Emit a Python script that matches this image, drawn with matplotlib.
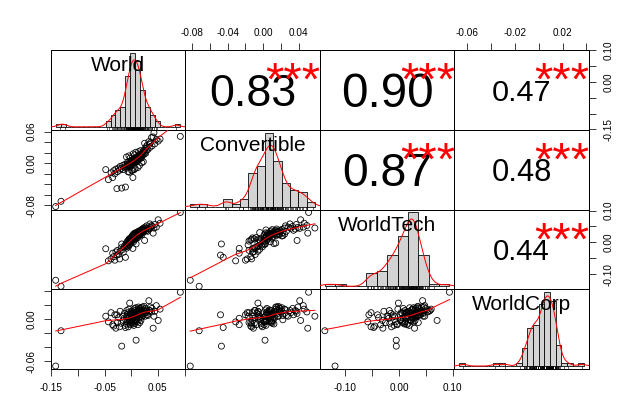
import numpy as np
import matplotlib
matplotlib.use("Agg")
import matplotlib.pyplot as plt

plt.rcParams['font.family'] = ['Liberation Sans', 'DejaVu Sans']

# ---------------- data ----------------
variables = ["World", "Convertible", "WorldTech", "WorldCorp"]

world = [-0.142, -0.132, -0.048, -0.043, -0.038, -0.035, -0.033, -0.031, -0.029, -0.027,
         -0.026, -0.024, -0.022, -0.021, -0.019, -0.018, -0.016, -0.015, -0.013, -0.012,
         -0.011, -0.0095, -0.009, -0.0085, -0.008, -0.0075, -0.007, -0.0062, -0.0055, -0.005,
         -0.0045, -0.004, -0.0035, -0.003, -0.0025, -0.002, -0.0015, -0.001, -0.0005, 0.0003,
         0.0008, 0.001, 0.0015, 0.002, 0.0024, 0.0028, 0.003, 0.0035, 0.004, 0.0043,
         0.0047, 0.005, 0.0054, 0.0058, 0.006, 0.0064, 0.0068, 0.007, 0.0074, 0.0078,
         0.008, 0.0085, 0.009, 0.0094, 0.0098, 0.0104, 0.011, 0.0115, 0.012, 0.0124,
         0.013, 0.0134, 0.0138, 0.014, 0.0145, 0.015, 0.0154, 0.0158, 0.016, 0.0165,
         0.017, 0.0174, 0.0178, 0.018, 0.0185, 0.019, 0.0194, 0.0198, 0.0205, 0.021,
         0.022, 0.0225, 0.023, 0.024, 0.025, 0.0255, 0.026, 0.027, 0.028, 0.029,
         0.0295, 0.031, 0.033, 0.034, 0.035, 0.036, 0.038, 0.039, 0.041, 0.0425,
         0.044, 0.047, 0.0505, 0.054, 0.092]

convertible = [-0.082, -0.072, -0.012, -0.031, -0.018, -0.027, -0.014, -0.020, -0.011, -0.048,
               -0.016, -0.009, -0.013, -0.006, -0.010, -0.047, -0.004, -0.012, -0.007, -0.002,
               -0.045, -0.006, 0.012, -0.009, -0.003, -0.005, 0.002, -0.016, -0.001, -0.004,
               0.014, -0.002, -0.017, -0.006, 0.004, 0.010, 0.001, -0.005, 0.002, 0.003,
               -0.014, 0.006, 0.000, 0.004, -0.013, 0.007, -0.027, 0.018, 0.001, 0.008,
               0.003, 0.006, -0.012, 0.009, 0.004, 0.016, 0.010, 0.005, -0.010, 0.007,
               0.003, 0.021, 0.002, 0.008, 0.006, 0.009, 0.004, 0.012, 0.007, -0.008,
               0.010, 0.014, 0.022, 0.011, 0.008, 0.013, -0.004, 0.015, 0.009, 0.012,
               0.017, 0.024, 0.014, 0.011, 0.018, 0.010, 0.016, 0.001, 0.019, 0.015,
               0.022, 0.003, 0.024, 0.017, 0.038, 0.021, 0.028, 0.019, 0.031, 0.025,
               0.034, 0.026, 0.041, 0.036, 0.030, 0.039, 0.049, 0.033, 0.050, 0.058,
               0.037, 0.045, 0.042, 0.046, 0.051]

worldtech = [-0.119, -0.138, -0.020, -0.058, -0.052, -0.034, -0.045, -0.056, -0.030, -0.040,
             -0.025, -0.038, -0.052, -0.028, -0.017, -0.005, -0.022, -0.031, -0.015, -0.009,
             -0.047, -0.012, -0.004, -0.018, 0.002, -0.011, -0.006, 0.004, -0.014, 0.008,
             -0.002, 0.011, -0.008, -0.001, 0.006, 0.013, -0.003, 0.009, 0.003, 0.015,
             0.007, 0.018, 0.004, 0.021, 0.010, 0.016, -0.019, 0.024, 0.012, 0.002,
             0.019, 0.027, 0.014, 0.022, 0.008, 0.025, 0.017, 0.029, 0.011, 0.023,
             0.030, 0.020, -0.005, 0.026, 0.013, 0.028, 0.018, 0.032, 0.024, 0.015,
             0.027, 0.035, 0.021, 0.029, 0.033, 0.025, 0.031, 0.022, 0.036, 0.028,
             0.034, 0.026, 0.038, 0.030, 0.027, 0.040, 0.033, 0.024, 0.037, 0.042,
             0.031, 0.039, 0.045, 0.035, 0.006, 0.041, 0.048, 0.036, 0.044, 0.052,
             0.038, 0.035, 0.044, 0.042, 0.058, 0.047, 0.053, 0.050, 0.029, 0.045,
             0.056, 0.048, 0.071, 0.060, 0.094]

worldcorp = [-0.0666, -0.0166, 0.004, -0.004, 0.009, -0.008, -0.010, 0.006, -0.013, 0.006,
             -0.005, 0.002, -0.011, 0.011, -0.006, -0.0384, 0.004, -0.002, 0.008, -0.009,
             -0.012, 0.003, -0.007, 0.012, -0.001, 0.006, -0.004, 0.009, -0.011, 0.001,
             0.014, -0.006, 0.004, 0.0226, -0.003, 0.007, -0.008, 0.010, -0.002, 0.005,
             -0.005, 0.011, -0.001, 0.008, -0.007, 0.003, 0.001, 0.013, -0.004, 0.006,
             -0.009, 0.002, 0.009, -0.002, 0.015, 0.004, -0.006, 0.007, 0.012, -0.003,
             0.005, 0.016, -0.030, 0.001, 0.009, -0.004, 0.010, 0.003, 0.013, -0.008,
             0.006, 0.017, -0.001, 0.008, 0.012, 0.002, 0.015, 0.007, -0.005, 0.011,
             0.004, 0.014, 0.009, -0.002, 0.016, 0.006, 0.012, 0.003, 0.010, 0.017,
             0.005, 0.013, 0.008, 0.018, 0.008, 0.011, 0.004, 0.015, 0.009, 0.013,
             0.006, 0.005, 0.026, 0.012, 0.012, 0.017, 0.010, 0.015, -0.013, 0.004,
             0.011, 0.019, -0.002, 0.014, 0.038]

cor_labels = ["0.83", "0.90", "0.47", "0.87", "0.48", "0.44"]   # upper triangle, row by row
signif_labels = ["***", "***", "***", "***", "***", "***"]

col_ticks = [[-0.15, -0.10, -0.05, 0.00, 0.05, 0.10],
             [-0.08, -0.06, -0.04, -0.02, 0.00, 0.02, 0.04],
             [-0.10, -0.05, 0.00, 0.05, 0.10],
             [-0.06, -0.04, -0.02, 0.00, 0.02, 0.04]]
col_ticklabels = [["-0.15", "", "-0.05", "", "0.05", ""],
                  ["-0.08", "", "-0.04", "", "0.00", "", "0.04"],
                  ["-0.10", "", "0.00", "", "0.10"],
                  ["-0.06", "", "-0.02", "", "0.02", ""]]
row_ticks = [[-0.15, -0.10, -0.05, 0.00, 0.05, 0.10],
             [-0.08, -0.06, -0.04, -0.02, 0.00, 0.02, 0.04, 0.06],
             [-0.10, -0.05, 0.00, 0.05, 0.10],
             [-0.06, -0.04, -0.02, 0.00, 0.02, 0.04]]
row_ticklabels = [["-0.15", "", "", "0.00", "", "0.10"],
                  ["-0.08", "", "", "", "0.00", "", "", "0.06"],
                  ["-0.10", "", "0.00", "", "0.10"],
                  ["-0.06", "", "", "0.00", "", ""]]

# ---------------- helpers ----------------
def lowess(x, y, f=2/3, iters=3):
    order = np.argsort(x, kind="mergesort")
    x = np.asarray(x, float)[order]
    y = np.asarray(y, float)[order]
    n = len(x)
    ns = max(min(int(f * n + 1e-7), n), 2)
    rw = np.ones(n)
    ys = np.zeros(n)
    rng = x[-1] - x[0]
    for it in range(iters + 1):
        for i in range(n):
            d = np.abs(x - x[i])
            h = np.sort(d)[ns - 1]
            if h > 0:
                r = d / h
                w = np.where(r <= 0.999, (1 - np.clip(r, 0, 1) ** 3) ** 3, 0.0)
                w = np.where(r <= 0.001, 1.0, w)
            else:
                w = (d == 0).astype(float)
            w = w * rw
            if w.sum() <= 0:
                ys[i] = y[i]
                continue
            w = w / w.sum()
            a = np.sum(w * x)
            c = np.sum(w * (x - a) ** 2)
            if h > 0 and np.sqrt(c) > 0.001 * rng:
                b = (x[i] - a) / c
                ww = w * (b * (x - a) + 1)
            else:
                ww = w
            ys[i] = np.sum(ww * y)
        if it == iters:
            break
        res = y - ys
        cmad = 6 * np.median(np.abs(res))
        if cmad < 1e-7 * np.mean(np.abs(y)):
            break
        r = np.abs(res) / cmad
        rw = np.where(r <= 0.001, 1.0, np.where(r > 0.999, 0.0, (1 - np.clip(r, 0, 1) ** 2) ** 2))
    return x, ys


def pretty_unit(dx, ndiv):
    cell = dx / max(ndiv, 1)
    U = 10 ** np.floor(np.log10(cell))
    unit = U
    h = 1.5
    h5 = 0.5 + 1.5 * h
    if 2 * U - cell < h * (cell - unit):
        unit = 2 * U
        if 5 * U - cell < h5 * (cell - unit):
            unit = 5 * U
            if 10 * U - cell < h * (cell - unit):
                unit = 10 * U
    return unit


def fd_breaks(x):
    n = len(x)
    q75, q25 = np.percentile(x, [75, 25])
    h = 2 * (q75 - q25) * n ** (-1 / 3)
    nclass = int(np.ceil((x.max() - x.min()) / h))
    unit = pretty_unit(x.max() - x.min(), nclass)
    lo = np.floor(x.min() / unit + 1e-7)
    hi = np.ceil(x.max() / unit - 1e-7)
    return np.round(np.arange(lo, hi + 1) * unit, 10)


def kde(x):
    n = len(x)
    q75, q25 = np.percentile(x, [75, 25])
    bw = 0.9 * min(np.std(x, ddof=1), (q75 - q25) / 1.34) * n ** (-0.2)
    grid = np.linspace(x.min() - 3 * bw, x.max() + 3 * bw, 512)
    dens = np.exp(-0.5 * ((grid[:, None] - x[None, :]) / bw) ** 2).sum(axis=1) / (n * bw * np.sqrt(2 * np.pi))
    return grid, dens


# ---------------- figure ----------------
data = [np.array(v, float) for v in (world, convertible, worldtech, worldcorp)]
lims = []
for v in data:
    lo, hi = v.min(), v.max()
    pad = 0.04 * (hi - lo)
    lims.append((lo - pad, hi + pad))

PX = 0.72  # points per pixel at dpi 100
fig = plt.figure(figsize=(6.4, 4.2), dpi=100)
L, R, T, B = 50.7, 589.0, 50.0, 369.0
gs = fig.add_gridspec(4, 4, left=L / 640, right=R / 640, top=1 - T / 420, bottom=1 - B / 420,
                      wspace=0, hspace=0)
panel_h = (B - T) / 4
K = 51.5      # base text size (px) for correlation numbers
KS = 47.0     # size (px) of significance stars

tick_kw = dict(direction="out", length=7 * PX, width=0.75 * PX, labelsize=10 * PX, color="black")

cor_idx = 0
cor_map = {}
for i in range(4):
    for j in range(i + 1, 4):
        cor_map[(i, j)] = cor_idx
        cor_idx += 1

for i in range(4):
    for j in range(4):
        ax = fig.add_subplot(gs[i, j])
        for s in ax.spines.values():
            s.set_linewidth(1.0 * PX)
        ax.set_xticks([])
        ax.set_yticks([])
        if i == j:
            x = data[i]
            br = fd_breaks(x)
            step = br[1] - br[0]
            counts, _ = np.histogram(-x, bins=-br[::-1])
            counts = counts[::-1]
            dens = counts / (len(x) * step)
            xr = br[-1] - br[0]
            ax.set_xlim(br[0] - 0.04 * xr, br[-1] + 0.04 * xr)
            ymax = dens.max()
            ax.set_ylim(-0.04 * ymax, 1.04 * ymax)
            ax.bar(br[:-1], dens, width=step, align="edge", color="#D3D3D3",
                   edgecolor="black", linewidth=0.8 * PX, zorder=2)
            g, d = kde(x)
            ax.plot(g, d, color="red", lw=1.0 * PX, zorder=3)
            ax.vlines(x, 0, 0.035, transform=ax.get_xaxis_transform(), color="black",
                      lw=0.6 * PX, zorder=4)
            ax.text(0.5, 0.83 - 0.358 * 20.9 / panel_h, variables[i], transform=ax.transAxes,
                    ha="center", va="baseline", fontsize=20.9 * PX, zorder=5)
        elif i > j:
            ax.set_xlim(*lims[j])
            ax.set_ylim(*lims[i])
            ax.scatter(data[j], data[i], s=(6.0 * PX) ** 2, facecolors="none",
                       edgecolors="black", linewidths=0.8 * PX, zorder=2)
            lx, ly = lowess(data[j], data[i])
            ax.plot(lx, ly, color="red", lw=1.0 * PX, zorder=3)
        else:
            ax.set_xlim(*lims[j])
            ax.set_ylim(*lims[i])
            k = cor_map[(i, j)]
            r = float(cor_labels[k])
            size_px = K * (abs(r) + 0.3) / 1.3
            ax.text(0.5, 0.5 - 0.358 * size_px / panel_h, cor_labels[k], transform=ax.transAxes,
                    ha="center", va="baseline", fontsize=size_px * PX)
            ax.text(0.8, 0.775 - 0.57 * KS / panel_h, signif_labels[k], transform=ax.transAxes,
                    ha="center", va="baseline", fontsize=KS * PX, color="red", clip_on=False)

        # axes on outer panels (alternating, as in pairs())
        if i == 3 and j % 2 == 0:
            ax.set_xticks(col_ticks[j])
            ax.set_xticklabels(col_ticklabels[j])
            ax.tick_params(axis="x", bottom=True, top=False, labelbottom=True, pad=7 * PX, **tick_kw)
        if i == 0 and j % 2 == 1:
            ax.set_xticks(col_ticks[j])
            ax.set_xticklabels(col_ticklabels[j])
            ax.tick_params(axis="x", bottom=False, top=True, labelbottom=False, labeltop=True,
                           pad=5 * PX, **tick_kw)
        if j == 0 and i % 2 == 1:
            ax.set_yticks(row_ticks[i])
            ax.set_yticklabels(row_ticklabels[i], rotation=90, va="center")
            ax.tick_params(axis="y", left=True, right=False, labelleft=True, pad=7 * PX, **tick_kw)
        if j == 3 and i % 2 == 0:
            ax.set_yticks(row_ticks[i])
            ax.set_yticklabels(row_ticklabels[i], rotation=90, va="center")
            ax.tick_params(axis="y", left=False, right=True, labelleft=False, labelright=True,
                           pad=8 * PX, **tick_kw)

fig.savefig("out.png", dpi=100, facecolor="white")
